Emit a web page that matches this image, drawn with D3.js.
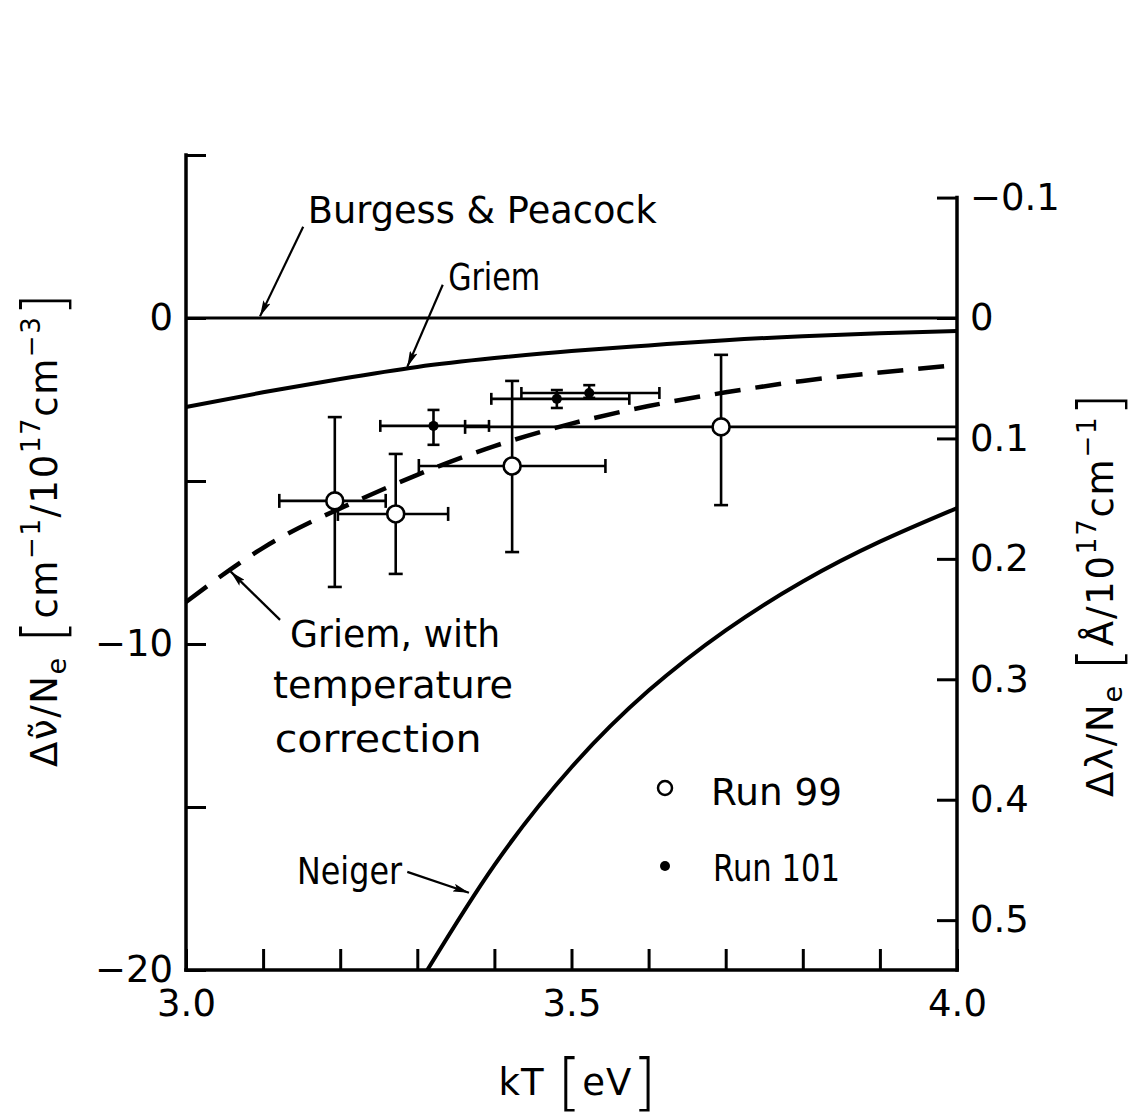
<!DOCTYPE html>
<html>
<head>
<meta charset="utf-8">
<script src="https://cdn.jsdelivr.net/npm/d3@7"></script>
<style>
  body { margin: 0; background: #fff; }
  svg { display: block; font-family: "DejaVu Sans", sans-serif; }
</style>
</head>
<body>
<svg id="chart" width="1142" height="1117"></svg>
<script>
// ---------------- data ----------------
const kTGrid        = [3.0, 3.1, 3.2, 3.3, 3.4, 3.5, 3.6, 3.7, 3.8, 3.9, 4.0];
const griem         = [-2.73, -2.28, -1.87, -1.50, -1.23, -1.01, -0.84, -0.68, -0.56, -0.47, -0.40];
const griemTempCorr = [-8.71, -7.05, -5.84, -4.81, -3.93, -3.24, -2.70, -2.28, -1.93, -1.67, -1.44];
const burgessKT     = [3.0, 4.0];
const burgess       = [0, 0];
const neigerKT      = [3.313, 3.4, 3.5, 3.6, 3.7, 3.8, 3.9, 4.0];
const neiger        = [-20, -16.78, -13.78, -11.43, -9.58, -8.08, -6.86, -5.83];

// Run 99 (open circles)
const run99kT   = [3.193, 3.272, 3.423, 3.694];
const run99     = [-5.61, -6.01, -4.54, -3.34];
const run99yLo  = [-8.25, -7.85, -7.18, -5.74];
const run99yHi  = [-3.04, -4.17, -1.93, -1.13];
const run99xLo  = [3.121, 3.197, 3.302, 3.362];
const run99xHi  = [3.259, 3.340, 3.544, 4.03];

// Run 101 (filled dots)
const run101kT  = [3.321, 3.481, 3.523];
const run101    = [-3.31, -2.48, -2.30];
const run101yLo = [-3.89, -2.76, -2.45];
const run101yHi = [-2.82, -2.21, -2.06];
const run101xLo = [3.252, 3.396, 3.435];
const run101xHi = [3.393, 3.575, 3.614];

// ticks
const xTicks      = [3.0, 3.1, 3.2, 3.3, 3.4, 3.5, 3.6, 3.7, 3.8, 3.9, 4.0];
const xTickLabels = {"3": "3.0", "3.5": "3.5", "4": "4.0"};
const yTicks      = [5, 0, -5, -10, -15, -20];
const yTickLabels = {"0": "0", "-10": "\u221210", "-20": "\u221220"};
const y2Ticks     = [-0.1, 0, 0.1, 0.2, 0.3, 0.4, 0.5];
const y2TickLabels = ["\u22120.1", "0", "0.1", "0.2", "0.3", "0.4", "0.5"];
const lambdaPerNu = 0.02707;   // Å per cm^-1 (right axis conversion)

// annotations (data coordinates)
const annTexts = ["Burgess & Peacock", "Griem", "Griem, with", "temperature", "correction", "Neiger"];
const annX     = [3.158, 3.340, 3.135, 3.113, 3.115, 3.144];
const annY     = [2.92, 0.86, -10.09, -11.65, -13.3, -17.36];
const annW     = [349, 92, 210, 240, 207, 105];
const arrowFrom = [[3.152, 2.80], [3.333, 1.02], [3.122, -9.26], [3.287, -16.99]];
const arrowTo   = [[3.096, 0.05], [3.287, -1.50], [3.058, -7.78], [3.367, -17.63]];

// ---------------- layout ----------------
const svg = d3.select("#chart");
svg.append("rect").attr("width", 1142).attr("height", 1117).attr("fill", "#fff");

const x  = d3.scaleLinear().domain([3.0, 4.0]).range([186, 957]);
const y  = d3.scaleLinear().domain([-20, 5]).range([970, 155]);
const y2 = d3.scaleLinear().domain([20 * lambdaPerNu, -5 * lambdaPerNu]).range([970, 155]);

const FS = 37;

// defs: arrowhead
svg.append("defs").append("marker")
  .attr("id", "arrow").attr("viewBox", "0 0 16 8")
  .attr("refX", 16).attr("refY", 4)
  .attr("markerWidth", 16).attr("markerHeight", 8)
  .attr("markerUnits", "userSpaceOnUse")
  .attr("orient", "auto")
  .append("path").attr("d", "M0,0 L16,4 L0,8 L3,4 Z").attr("fill", "#000");

// ---------------- axes ----------------
const axisStyle = g => {
  g.select(".domain").remove();
  g.selectAll(".tick line").attr("stroke", "#000").attr("stroke-width", 3);
  g.selectAll(".tick text").attr("fill", "#000").attr("font-size", FS)
    .attr("font-family", "DejaVu Sans, sans-serif");
};

// left
svg.append("g").attr("transform", `translate(${x(3.0)},0)`)
  .call(d3.axisLeft(y).tickValues(yTicks).tickSize(-20).tickPadding(13)
        .tickFormat(d => yTickLabels[String(d)] || ""))
  .call(axisStyle);
// right
svg.append("g").attr("transform", `translate(${x(4.0)},0)`)
  .call(d3.axisRight(y2).tickValues(y2Ticks).tickSize(-20).tickPadding(13)
        .tickFormat((d, i) => y2TickLabels[i]))
  .call(axisStyle);
// bottom
svg.append("g").attr("transform", `translate(0,${y(-20)})`)
  .call(d3.axisBottom(x).tickValues(xTicks).tickSize(-21).tickPadding(20)
        .tickFormat(d => xTickLabels[String(+d.toFixed(1))] || ""))
  .call(axisStyle);

// axis lines
const frame = svg.append("g").attr("stroke", "#000").attr("stroke-width", 3.5).attr("fill", "none")
  .attr("stroke-linecap", "square");
frame.append("line").attr("x1", x(3.0)).attr("x2", x(3.0)).attr("y1", y(5)).attr("y2", y(-20));
frame.append("line").attr("x1", x(4.0)).attr("x2", x(4.0)).attr("y1", y2(-0.1)).attr("y2", y(-20));
frame.append("line").attr("x1", x(3.0)).attr("x2", x(4.0)).attr("y1", y(-20)).attr("y2", y(-20));

// ---------------- curves ----------------
const line = d3.line().x(d => x(d[0])).y(d => y(d[1])).curve(d3.curveMonotoneX);
const smoothLine = d3.line().x(d => x(d[0])).y(d => y(d[1])).curve(d3.curveNatural);
const zip = (a, b) => a.map((v, i) => [v, b[i]]);

svg.append("path").datum(zip(burgessKT, burgess)).attr("d", line)
  .attr("fill", "none").attr("stroke", "#000").attr("stroke-width", 3);
svg.append("path").datum(zip(kTGrid, griem)).attr("d", smoothLine)
  .attr("fill", "none").attr("stroke", "#000").attr("stroke-width", 4);
svg.append("path").datum(zip(kTGrid, griemTempCorr)).attr("d", smoothLine)
  .attr("fill", "none").attr("stroke", "#000").attr("stroke-width", 4.5)
  .attr("stroke-dasharray", "26,15");
svg.append("path").datum(zip(neigerKT, neiger)).attr("d", smoothLine)
  .attr("fill", "none").attr("stroke", "#000").attr("stroke-width", 4);

// ---------------- error bars & points ----------------
function drawRun(kt, val, yLo, yHi, xLo, xHi, cap) {
  const g = svg.append("g").attr("stroke", "#000").attr("stroke-width", 2.6).attr("fill", "none");
  kt.forEach((k, i) => {
    const cx = x(k), cy = y(val[i]);
    g.append("line").attr("x1", cx).attr("x2", cx).attr("y1", y(yLo[i])).attr("y2", y(yHi[i]));
    g.append("line").attr("x1", cx - cap).attr("x2", cx + cap).attr("y1", y(yLo[i])).attr("y2", y(yLo[i]));
    g.append("line").attr("x1", cx - cap).attr("x2", cx + cap).attr("y1", y(yHi[i])).attr("y2", y(yHi[i]));
    const hi = Math.min(xHi[i], 4.0);
    g.append("line").attr("x1", x(xLo[i])).attr("x2", x(hi)).attr("y1", cy).attr("y2", cy);
    g.append("line").attr("x1", x(xLo[i])).attr("x2", x(xLo[i])).attr("y1", cy - cap).attr("y2", cy + cap);
    if (xHi[i] <= 4.0)
      g.append("line").attr("x1", x(xHi[i])).attr("x2", x(xHi[i])).attr("y1", cy - cap).attr("y2", cy + cap);
  });
}
drawRun(run99kT, run99, run99yLo, run99yHi, run99xLo, run99xHi, 7);
drawRun(run101kT, run101, run101yLo, run101yHi, run101xLo, run101xHi, 6);

svg.append("g").selectAll("circle").data(zip(run99kT, run99)).join("circle")
  .attr("cx", d => x(d[0])).attr("cy", d => y(d[1])).attr("r", 8.5)
  .attr("fill", "#fff").attr("stroke", "#000").attr("stroke-width", 2.6);
svg.append("g").selectAll("circle").data(zip(run101kT, run101)).join("circle")
  .attr("cx", d => x(d[0])).attr("cy", d => y(d[1])).attr("r", 5)
  .attr("fill", "#000");

// ---------------- annotations ----------------
annTexts.forEach((t, i) => {
  svg.append("text").attr("x", x(annX[i])).attr("y", y(annY[i]))
    .attr("font-size", FS).attr("fill", "#000")
    .attr("textLength", annW[i]).attr("lengthAdjust", "spacingAndGlyphs")
    .text(t);
});
arrowFrom.forEach((f, i) => {
  svg.append("line")
    .attr("x1", x(f[0])).attr("y1", y(f[1]))
    .attr("x2", x(arrowTo[i][0])).attr("y2", y(arrowTo[i][1]))
    .attr("stroke", "#000").attr("stroke-width", 2.2)
    .attr("marker-end", "url(#arrow)");
});

// ---------------- legend ----------------
const legend = svg.append("g");
legend.append("circle").attr("cx", 665).attr("cy", 788).attr("r", 7)
  .attr("fill", "#fff").attr("stroke", "#000").attr("stroke-width", 2.5);
legend.append("text").attr("x", 711).attr("y", 805).attr("font-size", FS)
  .attr("textLength", 131).attr("lengthAdjust", "spacingAndGlyphs").text("Run 99");
legend.append("circle").attr("cx", 665).attr("cy", 866).attr("r", 5).attr("fill", "#000");
legend.append("text").attr("x", 713).attr("y", 881).attr("font-size", FS)
  .attr("textLength", 127).attr("lengthAdjust", "spacingAndGlyphs").text("Run 101");

// ---------------- axis titles ----------------
function richText(g, parts) {
  const t = g.append("text").attr("fill", "#000");
  parts.forEach(p => {
    const s = t.append("tspan").text(p.t).attr("font-size", p.s || FS);
    if (p.dy) s.attr("dy", p.dy);
    if (p.w) s.attr("font-weight", p.w);
  });
  return t;
}
// left title
const lt = svg.append("g").attr("transform", "translate(57,530) rotate(-90)");
richText(lt, [
  {t: "\u0394\u03BD\u0303/N"},
  {t: "e", s: 27, dy: 9},
  {t: " ", dy: -9},
  {t: "[", s: 58, dy: 7, w: 200},
  {t: "cm", dy: -7},
  {t: "\u22121", s: 26, dy: -17},
  {t: "/10", dy: 17},
  {t: "17", s: 26, dy: -17},
  {t: "cm", dy: 17},
  {t: "\u22123", s: 26, dy: -17},
  {t: "]", s: 58, dy: 24, w: 200}
]).attr("text-anchor", "middle").attr("textLength", 474).attr("lengthAdjust", "spacing");

// right title
const rt = svg.append("g").attr("transform", "translate(1113,595) rotate(-90)");
richText(rt, [
  {t: "\u0394\u03BB/N"},
  {t: "e", s: 27, dy: 9},
  {t: " ", dy: -9},
  {t: "[", s: 58, dy: 7, w: 200},
  {t: "\u00C5/10", dy: -7},
  {t: "17", s: 26, dy: -17},
  {t: "cm", dy: 17},
  {t: "\u22121", s: 26, dy: -17},
  {t: "]", s: 58, dy: 24, w: 200}
]).attr("text-anchor", "middle").attr("textLength", 404).attr("lengthAdjust", "spacing");

// bottom title
const bt = svg.append("g").attr("transform", `translate(${(x(3.0) + x(4.0)) / 2 + 6},1095)`);
richText(bt, [
  {t: "kT "},
  {t: "[", s: 62, dy: 8, w: 200},
  {t: "eV", dy: -8},
  {t: "]", s: 62, dy: 8, w: 200}
]).attr("text-anchor", "middle").attr("textLength", 158).attr("lengthAdjust", "spacing");
</script>
</body>
</html>
